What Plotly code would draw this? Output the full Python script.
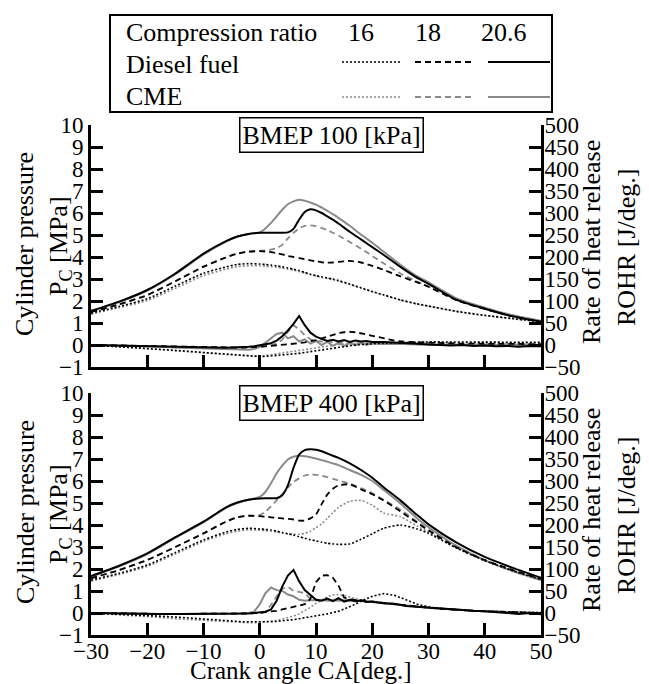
import plotly.graph_objects as go

W, H = 649, 684

# crank angle grids [deg.]
ca_p = [-30, -25, -20, -15, -10, -6, -4, -2, 0, 1, 2, 3, 4, 5, 6, 7, 8, 9, 10, 11, 12, 13, 14,
        16, 18, 20, 22, 25, 28, 30, 35, 40, 45, 50]
ca_r = [-30, -26, -22, -18, -14, -10, -6, -4, -3, -2, -1, 0, 1, 2, 3, 4, 5, 6, 7, 8, 9, 10, 11, 12,
        13, 14, 15, 16, 17, 18, 19, 20, 22, 24, 26, 28, 30, 32, 34, 36, 38, 40, 42, 44, 46, 48, 50]

# cylinder pressure [MPa], BMEP 100 kPa
p100_d16 = [1.45, 1.75, 2.1, 2.68, 3.26, 3.55, 3.66, 3.7, 3.68, 3.66, 3.63, 3.6, 3.55, 3.5, 3.45, 3.38, 3.3,
            3.22, 3.15, 3.1, 3.05, 3.0, 2.93, 2.77, 2.6, 2.43, 2.28, 2.05, 1.87, 1.77, 1.53, 1.35, 1.2, 1.06]
p100_d18 = [1.5, 1.85, 2.27, 2.9, 3.56, 3.98, 4.15, 4.24, 4.27, 4.25, 4.22, 4.18, 4.12, 4.05, 4.0, 3.95, 3.9,
            3.85, 3.8, 3.76, 3.74, 3.75, 3.78, 3.82, 3.75, 3.6, 3.42, 3.12, 2.85, 2.65, 2.03, 1.64, 1.3, 1.05]
p100_d206 = [1.55, 1.97, 2.5, 3.25, 4.15, 4.72, 4.93, 5.05, 5.1, 5.1, 5.1, 5.1, 5.1, 5.12, 5.28, 5.7, 6.05,
             6.17, 6.12, 6.0, 5.85, 5.7, 5.52, 5.15, 4.8, 4.45, 4.1, 3.55, 3.05, 2.78, 2.05, 1.65, 1.3, 1.06]
p100_c16 = [1.4, 1.7, 2.02, 2.58, 3.15, 3.45, 3.56, 3.6, 3.6, 3.58, 3.56, 3.53, 3.5, 3.45, 3.4, 3.34, 3.27,
            3.2, 3.13, 3.07, 3.02, 2.97, 2.9, 2.75, 2.58, 2.42, 2.27, 2.04, 1.86, 1.76, 1.52, 1.34, 1.19, 1.05]
p100_c18 = [1.5, 1.85, 2.27, 2.9, 3.56, 3.98, 4.15, 4.24, 4.28, 4.3, 4.33, 4.4, 4.55, 4.85, 5.1, 5.3, 5.42,
            5.44, 5.4, 5.32, 5.22, 5.1, 4.98, 4.68, 4.38, 4.05, 3.72, 3.25, 2.88, 2.65, 2.05, 1.65, 1.3, 1.05]
p100_c206 = [1.53, 1.95, 2.47, 3.22, 4.12, 4.7, 4.92, 5.05, 5.12, 5.3, 5.55, 5.85, 6.15, 6.4, 6.53, 6.6, 6.56,
             6.48, 6.38, 6.25, 6.1, 5.95, 5.78, 5.42, 5.02, 4.65, 4.25, 3.65, 3.12, 2.85, 2.12, 1.7, 1.35, 1.1]

# cylinder pressure [MPa], BMEP 400 kPa
p400_d16 = [1.5, 1.8, 2.18, 2.75, 3.32, 3.68, 3.8, 3.85, 3.82, 3.8, 3.77, 3.72, 3.66, 3.6, 3.54, 3.47, 3.4,
            3.33, 3.28, 3.22, 3.17, 3.14, 3.12, 3.14, 3.35, 3.6, 3.85, 4.0, 3.82, 3.62, 2.95, 2.38, 1.92, 1.52]
p400_d18 = [1.58, 1.95, 2.41, 3.0, 3.62, 4.15, 4.35, 4.42, 4.4, 4.38, 4.35, 4.32, 4.3, 4.28, 4.25, 4.2, 4.2,
            4.3, 4.48, 4.95, 5.38, 5.65, 5.8, 5.85, 5.62, 5.4, 5.12, 4.62, 4.1, 3.75, 2.98, 2.4, 1.95, 1.55]
p400_d206 = [1.68, 2.15, 2.71, 3.45, 4.15, 4.8, 5.02, 5.15, 5.21, 5.22, 5.22, 5.22, 5.35, 5.8, 6.6, 7.2, 7.4,
             7.44, 7.42, 7.35, 7.25, 7.15, 7.05, 6.8, 6.5, 6.15, 5.72, 5.12, 4.45, 4.03, 3.2, 2.55, 2.05, 1.6]
p400_c16 = [1.45, 1.75, 2.12, 2.68, 3.25, 3.6, 3.72, 3.78, 3.76, 3.74, 3.72, 3.68, 3.64, 3.6, 3.58, 3.58, 3.62,
            3.72, 3.88, 4.05, 4.3, 4.55, 4.8, 5.08, 5.12, 4.9, 4.55, 4.38, 3.95, 3.68, 2.95, 2.38, 1.92, 1.52]
p400_c18 = [1.58, 1.95, 2.41, 3.0, 3.62, 4.15, 4.35, 4.42, 4.45, 4.6, 4.85, 5.12, 5.4, 5.7, 5.95, 6.12, 6.25,
            6.3, 6.28, 6.24, 6.18, 6.1, 6.02, 5.88, 5.68, 5.45, 5.15, 4.7, 4.15, 3.8, 3.0, 2.4, 1.95, 1.52]
p400_c206 = [1.65, 2.12, 2.68, 3.42, 4.12, 4.78, 5.0, 5.15, 5.28, 5.5, 5.9, 6.35, 6.7, 6.98, 7.1, 7.15, 7.13,
             7.08, 7.02, 6.95, 6.88, 6.8, 6.72, 6.5, 6.28, 6.0, 5.6, 4.98, 4.3, 3.9, 3.05, 2.4, 1.9, 1.5]

# rate of heat release [J/deg.], BMEP 100 kPa
r100_d16 = [0, -3, -6, -9, -13, -17, -21, -23, -24, -25, -26, -26, -26, -25, -24, -23, -22, -21, -19, -17,
            -15, -13, -11, -9, -7, -5, -3, -2, 0, 1, 2, 3, 4, 5, 6, 6, 7, 7, 7, 7, 7, 7, 7, 7, 6, 6, 6]
r100_d18 = [0, -1, -2, -3, -4, -5, -6, -6, -6, -5, -5, -4, -3, -2, 0, 1, 2, 3, 4, 6, 8, 11, 15, 19, 23, 27,
            29, 30, 29, 27, 24, 21, 15, 10, 7, 6, 5, 4, 4, 3, 3, 3, 2, 2, 2, 2, 2]
r100_d206 = [0, -1, -2, -3, -4, -6, -6, -5, -5, -4, -3, -1, 1, 4, 10, 20, 33, 48, 66, 45, 28, 19, 14, 9, 12,
             8, 11, 7, 10, 8, 9, 7, 7, 6, 4, 3, 1, 0, -1, 0, -2, -1, -3, -2, -4, -2, -3]
r100_c16 = [0, -3, -6, -10, -14, -18, -22, -24, -25, -26, -26, -25, -24, -22, -20, -18, -16, -14, -12, -10,
            -8, -6, -4, -2, 0, 1, 2, 3, 3, 4, 4, 5, 5, 5, 5, 5, 5, 5, 5, 5, 5, 5, 4, 4, 4, 4, 4]
r100_c18 = [0, -1, -2, -3, -4, -6, -7, -7, -6, -6, -5, -4, -3, -1, 3, 12, 30, 45, 36, 22, 13, 9, 8, 7, 6, 5,
            5, 4, 4, 4, 3, 3, 3, 2, 2, 2, 1, 1, 1, 0, 0, 0, 0, 0, -1, 0, -1]
r100_c206 = [0, -1, -2, -4, -6, -8, -10, -11, -11, -11, -9, -4, 5, 15, 25, 28, 15, 20, 8, 13, 3, 9, 0, 7, -2,
             5, -2, 5, -1, 5, 0, 4, 2, 3, 2, 1, 1, 0, 1, 0, 1, 0, 0, 1, 0, 0, 0]

# rate of heat release [J/deg.], BMEP 400 kPa
r400_d16 = [0, -2, -4, -7, -10, -13, -17, -19, -20, -20, -21, -21, -21, -20, -19, -18, -17, -15, -13, -11,
            -9, -7, -4, -2, 1, 4, 9, 14, 20, 27, 33, 38, 44, 40, 30, 20, 14, 10, 8, 6, 5, 4, 3, 2, 2, 1, 1]
r400_d18 = [0, -1, -1, -2, -2, -2, -2, -2, -1, -1, 0, 0, 2, 3, 5, 8, 11, 13, 16, 20, 32, 70, 85, 86, 80, 62,
            35, 31, 30, 29, 27, 26, 23, 20, 17, 14, 12, 10, 8, 6, 5, 4, 3, 2, 1, 1, 0]
r400_d206 = [0, -1, -1, -2, -2, -2, -2, -2, -1, -1, 0, 1, 3, 8, 28, 60, 85, 98, 72, 52, 42, 30, 28, 33, 27,
             34, 26, 30, 27, 29, 25, 26, 22, 21, 16, 14, 12, 10, 8, 7, 5, 4, 2, 1, -2, 0, -3]
r400_c16 = [0, -3, -6, -10, -14, -17, -20, -21, -22, -22, -22, -21, -20, -19, -17, -14, -11, -7, -2, 5, 13,
            22, 30, 37, 41, 42, 40, 36, 32, 29, 27, 25, 22, 20, 17, 14, 12, 10, 8, 6, 5, 4, 3, 2, 1, 1, 0]
r400_c18 = [0, -1, -1, -2, -2, -2, -2, -2, -1, -1, 0, 0, 3, 18, 38, 55, 60, 50, 48, 45, 32, 30, 29, 28, 28,
            29, 28, 27, 27, 26, 26, 25, 22, 20, 17, 14, 12, 10, 8, 7, 5, 4, 3, 2, 1, 0, 0]
r400_c206 = [0, -1, -1, -2, -2, -2, -2, -1, 0, 0, 3, 20, 45, 58, 52, 50, 42, 38, 30, 28, 29, 29, 30, 29, 30,
             29, 29, 28, 28, 27, 26, 25, 22, 20, 17, 14, 12, 10, 8, 7, 5, 4, 3, 2, 1, 0, 0]

ratios = ["16", "18", "20.6"]
fuels = ["Diesel fuel", "CME"]

FONT = "'Liberation Serif', 'Times New Roman', 'DejaVu Serif', serif"
BLACK = "black"
GRAY = "#8a8a8a"
dash_of = {"16": "2px,2px", "18": "6px,4px", "20.6": "solid"}
width_of = {"16": 1.6, "18": 1.8, "20.6": 2.0}
color_of = {"Diesel fuel": BLACK, "CME": GRAY}


def px(x):
    return x / W


def py(y):
    return 1 - y / H


fig = go.Figure()

panels = [
    # (xaxis, pressure yaxis, rohr yaxis, pressure data, rohr data)
    ("x", "y", "y2",
     {"CME": [p100_c16, p100_c18, p100_c206], "Diesel fuel": [p100_d16, p100_d18, p100_d206]},
     {"CME": [r100_c16, r100_c18, r100_c206], "Diesel fuel": [r100_d16, r100_d18, r100_d206]}),
    ("x2", "y3", "y4",
     {"CME": [p400_c16, p400_c18, p400_c206], "Diesel fuel": [p400_d16, p400_d18, p400_d206]},
     {"CME": [r400_c16, r400_c18, r400_c206], "Diesel fuel": [r400_d16, r400_d18, r400_d206]}),
]

for xa, ya_p, ya_r, pdata, rdata in panels:
    for fuel in ["CME", "Diesel fuel"]:
        for i, cr in enumerate(ratios):
            line = dict(color=color_of[fuel], dash=dash_of[cr], width=width_of[cr])
            fig.add_trace(go.Scatter(x=ca_p, y=pdata[fuel][i], mode="lines", xaxis=xa, yaxis=ya_p,
                                     line=dict(line, shape="spline", smoothing=0.6), showlegend=False))
            fig.add_trace(go.Scatter(x=ca_r, y=rdata[fuel][i], mode="lines", xaxis=xa, yaxis=ya_r,
                                     line=line, showlegend=False))

axis_common = dict(showline=True, linewidth=3, linecolor="black", ticks="inside", ticklen=12,
                   tickwidth=3, tickcolor="black", showgrid=False, zeroline=False,
                   tickfont=dict(family=FONT, size=23, color="black"))

xdom = [px(91), px(541)]
fig.update_layout(
    width=W, height=H,
    margin=dict(l=0, r=0, t=0, b=0, pad=0, autoexpand=False),
    paper_bgcolor="white", plot_bgcolor="white",
    font=dict(family=FONT, color="black"),
    xaxis=dict(domain=xdom, range=[-30, 50], dtick=10, anchor="y", showticklabels=False, **axis_common),
    yaxis=dict(domain=[py(367), py(125)], range=[-1, 10], dtick=1, anchor="x", **axis_common),
    yaxis2=dict(range=[-50, 500], dtick=50, overlaying="y", side="right", anchor="x",
                ticklabelstandoff=-4, **axis_common),
    xaxis2=dict(domain=xdom, range=[-30, 50], dtick=10, anchor="y3", ticklabelstandoff=-7, **axis_common),
    yaxis3=dict(domain=[py(635), py(393)], range=[-1, 10], dtick=1, anchor="x2", **axis_common),
    yaxis4=dict(range=[-50, 500], dtick=50, overlaying="y3", side="right", anchor="x2",
                ticklabelstandoff=-4, **axis_common),
)

annotations = []
shapes = []


def text(s, x, y, size=26, xanchor="center", angle=0, **kw):
    annotations.append(dict(text=s, x=px(x), y=py(y), xref="paper", yref="paper", showarrow=False,
                            xanchor=xanchor, yanchor="middle", textangle=angle,
                            font=dict(family=FONT, size=size, color="black"), **kw))


# legend box
shapes.append(dict(type="rect", xref="paper", yref="paper", x0=px(110), x1=px(552), y0=py(112), y1=py(15),
                   line=dict(color="black", width=2)))
text("Compression ratio", 124, 32, xanchor="left")
for cr, cx in zip(ratios, [361, 428, 504]):
    text(cr, cx, 32)
for fuel, ry, ly in zip(fuels, [64, 96], [62, 97]):
    text(fuel, 124, ry, xanchor="left")
    for cr, (x0, x1) in zip(ratios, [(342, 402), (415, 475), (488, 550)]):
        shapes.append(dict(type="line", xref="paper", yref="paper", x0=px(x0), x1=px(x1), y0=py(ly), y1=py(ly),
                           line=dict(color=color_of[fuel], dash=dash_of[cr], width=width_of[cr])))

# panel titles and axis titles
for off, load in [(0, "100"), (268, "400")]:
    text("BMEP " + load + " [kPa]", 331, 135 + off, bordercolor="black", borderwidth=1.5, borderpad=2,
         bgcolor="white")
    text("Cylinder pressure", 25, 244 + off, angle=-90)
    text("P<sub>C</sub> [MPa]", 60, 246 + off, angle=-90)
    text("Rate of heat release", 591, 242 + off, angle=-90)
    text("ROHR [J/deg.]", 626, 248 + off, angle=-90)
text("Crank angle CA[deg.]", 300, 670, size=25)

fig.update_layout(annotations=annotations, shapes=shapes)

# drop the page's default body margin so the figure sits at the window's corner
fig.write_html("out.html", config={"displayModeBar": False},
               post_script="document.body.style.margin='0';document.body.style.overflow='hidden';")
